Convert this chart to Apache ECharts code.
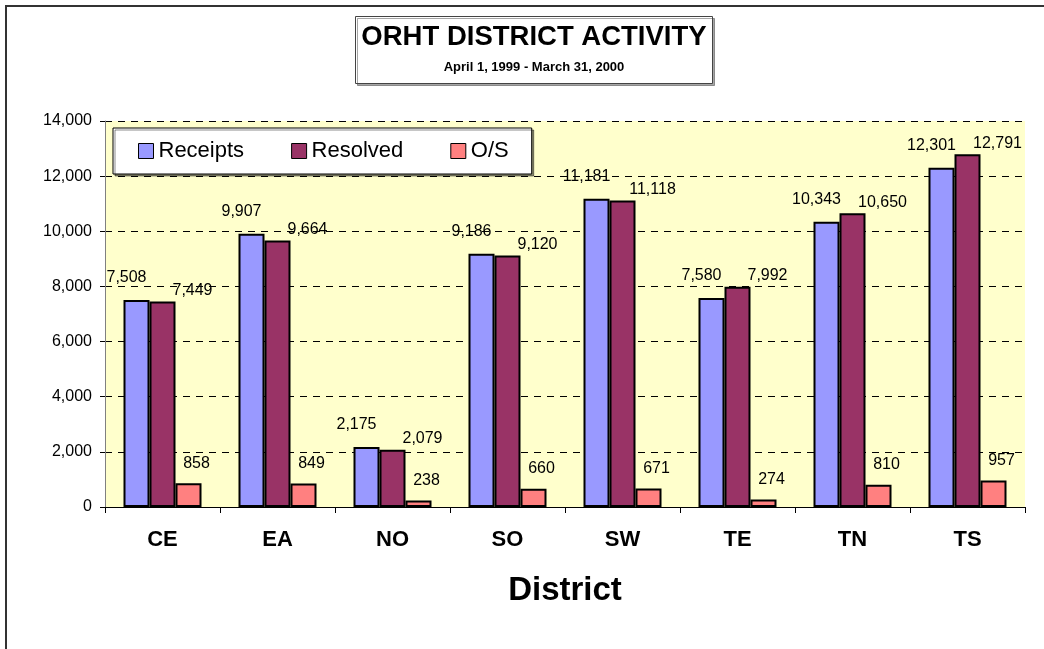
<!DOCTYPE html>
<html>
<head>
    <meta charset="utf-8">
    <title>ORHT District Activity</title>
    <script src="https://cdn.jsdelivr.net/npm/echarts@6/dist/echarts.min.js"></script>
    <style>
        html, body { margin: 0; padding: 0; background: #fff; }
        #chart { width: 1044px; height: 649px; }
    </style>
</head>
<body>
<div id="chart"></div>
<script type="text/javascript">
    // 数据
    var districts = ['CE', 'EA', 'NO', 'SO', 'SW', 'TE', 'TN', 'TS'];
    var receipts = [7508, 9907, 2175, 9186, 11181, 7580, 10343, 12301];
    var resolved = [7449, 9664, 2079, 9120, 11118, 7992, 10650, 12791];
    var outstanding = [858, 849, 238, 660, 671, 274, 810, 957];
    var yTicks = [0, 2000, 4000, 6000, 8000, 10000, 12000, 14000];

    var myChart = echarts.init(document.getElementById('chart'));

    function fmt(v) {
        return Number(v).toLocaleString('en-US');
    }

    var FONT = '"Liberation Sans", Arial, sans-serif';

    function barSeries(name, data, color, offset) {
        return {
            name: name,
            type: 'bar',
            data: data,
            barWidth: 26,
            barGap: '0%',
            itemStyle: { color: color, borderColor: '#000', borderWidth: 2 },
            label: {
                show: true,
                position: 'top',
                offset: offset,
                fontFamily: FONT,
                fontSize: 16,
                color: '#000',
                formatter: function (p) { return fmt(p.value); }
            }
        };
    }

    myChart.setOption({
        animation: false,
        title: {
            text: 'ORHT DISTRICT ACTIVITY',
            subtext: 'April 1, 1999 - March 31, 2000',
            left: 528,
            top: 16,
            textAlign: 'center',
            itemGap: 10,
            padding: [7, 6, 10, 6],
            backgroundColor: '#fff',
            borderColor: '#444',
            borderWidth: 1,
            shadowColor: 'rgba(0,0,0,0.35)',
            shadowOffsetX: 2,
            shadowOffsetY: 2,
            textStyle: {
                fontFamily: FONT,
                fontSize: 27.5,
                fontWeight: 'bold',
                color: '#000'
            },
            subtextStyle: {
                fontFamily: FONT,
                fontSize: 13,
                fontWeight: 'bold',
                color: '#000'
            }
        },
        legend: {
            left: 113,
            top: 128,
            orient: 'horizontal',
            padding: [12, 23, 12, 25],
            itemGap: 47,
            itemWidth: 15,
            itemHeight: 15,
            itemStyle: { borderColor: '#000', borderWidth: 1 },
            icon: 'rect',
            backgroundColor: '#fff',
            borderColor: '#000',
            borderWidth: 1,
            shadowColor: 'rgba(0,0,0,0.45)',
            shadowOffsetX: 2,
            shadowOffsetY: 2,
            textStyle: {
                fontFamily: FONT,
                fontSize: 22,
                color: '#000'
            },
            data: ['Receipts', 'Resolved', 'O/S']
        },
        grid: {
            left: 105,
            right: 19,
            top: 121,
            bottom: 142,
            show: true,
            backgroundColor: '#FFFFCC',
            borderWidth: 0
        },
        xAxis: {
            type: 'category',
            data: districts,
            name: 'District',
            nameLocation: 'middle',
            nameGap: 67,
            nameTextStyle: {
                fontFamily: FONT,
                fontSize: 33,
                fontWeight: 'bold',
                color: '#000'
            },
            axisLine: { lineStyle: { color: '#000', width: 1 } },
            axisTick: { show: true, length: 6, lineStyle: { color: '#000' } },
            axisLabel: {
                margin: 22,
                fontFamily: FONT,
                fontSize: 22,
                fontWeight: 'bold',
                color: '#000'
            }
        },
        yAxis: {
            type: 'value',
            min: 0,
            max: yTicks[yTicks.length - 1],
            interval: yTicks[1] - yTicks[0],
            axisLine: { show: true, lineStyle: { color: '#808080' } },
            axisTick: { show: true, length: 5, lineStyle: { color: '#000' } },
            axisLabel: {
                margin: 13,
                fontFamily: FONT,
                fontSize: 16,
                color: '#000',
                formatter: function (v) { return fmt(v); }
            },
            splitLine: {
                show: true,
                lineStyle: { color: '#000', type: [7, 6], width: 1 }
            }
        },
        series: [
            barSeries('Receipts', receipts, '#9999FF', [-10, -9]),
            barSeries('Resolved', resolved, '#993366', [30, 2]),
            barSeries('O/S', outstanding, '#FF8080', [8, -7])
        ],
        graphic: [
            {
                type: 'polyline',
                shape: { points: [[6, 660], [6, 6], [1050, 6]] },
                style: { stroke: '#333', lineWidth: 2, fill: null },
                silent: true
            }
        ]
    });
</script>
</body>
</html>
